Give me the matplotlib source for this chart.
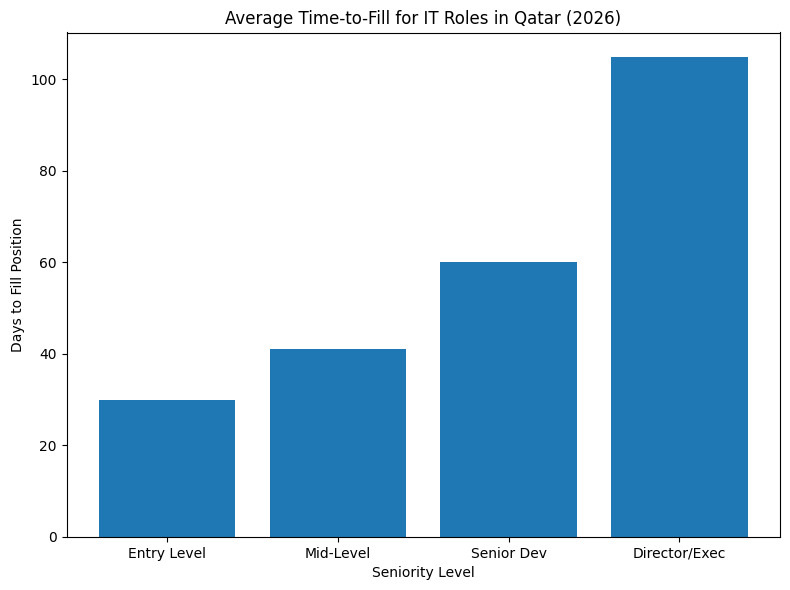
import matplotlib
matplotlib.use('Agg')
import matplotlib.pyplot as plt

levels = ['Entry Level', 'Mid-Level', 'Senior Dev', 'Director/Exec']
days = [30, 41, 60, 105]

fig, ax = plt.subplots(figsize=(7.9, 5.9), dpi=100)
ax.bar(levels, days, color='#1f77b4')
ax.set_title('Average Time-to-Fill for IT Roles in Qatar (2026)')
ax.set_xlabel('Seniority Level')
ax.set_ylabel('Days to Fill Position')

fig.subplots_adjust(left=66.5/790, right=780/790, top=1-32.5/590, bottom=1-537/590)
fig.savefig('out.png', dpi=100)
